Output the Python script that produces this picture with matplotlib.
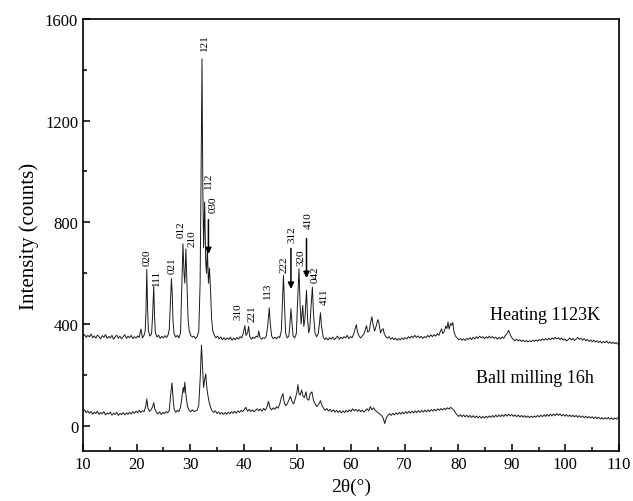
import matplotlib
matplotlib.use('Agg')
import matplotlib.pyplot as plt
from matplotlib.ticker import MultipleLocator

# heating 1123K pattern (2theta, counts)
heat = [
    (10.0, 352), (10.3, 358), (10.6, 347), (10.9, 355), (11.2, 349), (11.5, 360), (11.8, 346), (12.1, 353),
    (12.4, 344), (12.7, 356), (13.0, 350), (13.3, 341), (13.6, 354), (13.9, 347), (14.2, 358), (14.5, 343),
    (14.8, 351), (15.1, 345), (15.4, 355), (15.7, 340), (16.0, 349), (16.3, 356), (16.6, 344), (16.9, 352),
    (17.2, 341), (17.5, 350), (17.8, 357), (18.1, 343), (18.4, 352), (18.7, 346), (19.0, 355), (19.3, 342),
    (19.6, 350), (19.9, 344), (20.2, 353), (20.5, 347), (20.8, 380), (21.1, 345), (21.4, 356), (21.6, 372),
    (21.75, 450), (21.9, 615), (22.05, 460), (22.2, 372), (22.5, 352), (22.8, 362), (23.0, 440), (23.2, 548),
    (23.35, 430), (23.5, 365), (23.8, 348), (24.1, 356), (24.4, 343), (24.7, 351), (25.0, 345), (25.3, 354),
    (25.6, 347), (25.9, 358), (26.1, 380), (26.35, 500), (26.5, 578), (26.65, 520), (26.8, 410), (27.0, 362),
    (27.3, 348), (27.6, 355), (27.9, 345), (28.2, 365), (28.45, 560), (28.65, 715), (28.85, 600), (29.0, 560),
    (29.2, 695), (29.4, 560), (29.6, 420), (29.8, 375), (30.1, 355), (30.4, 348), (30.7, 352), (31.0, 342),
    (31.3, 350), (31.6, 370), (31.85, 560), (32.0, 900), (32.2, 1443), (32.35, 950), (32.5, 700), (32.7, 880),
    (32.9, 640), (33.05, 600), (33.2, 700), (33.4, 560), (33.6, 620), (33.8, 530), (34.0, 420), (34.2, 375),
    (34.5, 355), (34.8, 345), (35.1, 352), (35.4, 341), (35.7, 349), (36.0, 338), (36.3, 346), (36.6, 337),
    (36.9, 345), (37.2, 339), (37.5, 348), (37.8, 336), (38.1, 344), (38.4, 338), (38.7, 347), (39.0, 340),
    (39.3, 350), (39.6, 345), (39.9, 362), (40.2, 393), (40.4, 355), (40.7, 365), (40.9, 390), (41.1, 352),
    (41.4, 340), (41.7, 348), (42.0, 343), (42.3, 352), (42.6, 348), (42.8, 372), (43.0, 348), (43.3, 340),
    (43.6, 346), (43.9, 343), (44.2, 352), (44.5, 400), (44.75, 463), (44.95, 400), (45.2, 352), (45.5, 342),
    (45.8, 348), (46.1, 341), (46.4, 350), (46.7, 346), (47.0, 372), (47.2, 480), (47.4, 591), (47.6, 470),
    (47.8, 365), (48.1, 345), (48.4, 352), (48.6, 395), (48.8, 460), (49.0, 400), (49.2, 352), (49.5, 345),
    (49.8, 362), (50.0, 470), (50.3, 617), (50.5, 480), (50.7, 400), (51.0, 473), (51.2, 390), (51.4, 420),
    (51.7, 532), (51.9, 420), (52.1, 365), (52.3, 380), (52.55, 470), (52.8, 545), (53.0, 440), (53.3, 362),
    (53.6, 350), (53.9, 362), (54.1, 400), (54.3, 444), (54.5, 390), (54.8, 350), (55.1, 339), (55.4, 345),
    (55.7, 337), (56.0, 346), (56.3, 340), (56.6, 348), (56.9, 338), (57.2, 345), (57.5, 352), (57.8, 340),
    (58.1, 348), (58.4, 342), (58.7, 350), (59.0, 345), (59.3, 355), (59.6, 342), (59.9, 350), (60.2, 346),
    (60.5, 360), (60.8, 382), (61.0, 397), (61.2, 370), (61.5, 352), (61.8, 345), (62.1, 353), (62.4, 360),
    (62.7, 380), (62.9, 393), (63.1, 368), (63.4, 372), (63.7, 410), (63.9, 428), (64.1, 400), (64.4, 372),
    (64.7, 392), (65.0, 417), (65.2, 405), (65.5, 365), (65.8, 378), (66.0, 381), (66.2, 362), (66.5, 350),
    (66.8, 344), (67.1, 350), (67.4, 340), (67.7, 346), (68.0, 338), (68.3, 344), (68.6, 336), (68.9, 342),
    (69.2, 337), (69.5, 345), (69.8, 339), (70.1, 346), (70.4, 341), (70.7, 350), (71.0, 344), (71.3, 352),
    (71.6, 346), (71.9, 355), (72.2, 347), (72.5, 353), (72.8, 345), (73.1, 351), (73.4, 343), (73.7, 350),
    (74.0, 346), (74.3, 355), (74.6, 348), (74.9, 357), (75.2, 350), (75.5, 358), (75.8, 352), (76.1, 362),
    (76.4, 355), (76.7, 372), (76.9, 381), (77.1, 362), (77.4, 370), (77.7, 392), (77.9, 382), (78.1, 408),
    (78.3, 380), (78.6, 402), (78.8, 395), (79.0, 405), (79.2, 370), (79.5, 352), (79.8, 345), (80.1, 338),
    (80.4, 342), (80.7, 336), (81.0, 341), (81.3, 335), (81.6, 343), (81.9, 339), (82.2, 346), (82.5, 338),
    (82.8, 348), (83.1, 341), (83.4, 350), (83.7, 343), (84.0, 352), (84.3, 345), (84.6, 350), (84.9, 342),
    (85.2, 349), (85.5, 344), (85.8, 352), (86.1, 345), (86.4, 350), (86.7, 343), (87.0, 348), (87.3, 340),
    (87.6, 347), (87.9, 341), (88.2, 349), (88.5, 343), (88.8, 355), (89.1, 362), (89.4, 375), (89.7, 358),
    (90.0, 346), (90.3, 338), (90.6, 334), (90.9, 340), (91.2, 333), (91.5, 338), (91.8, 331), (92.1, 336),
    (92.4, 330), (92.7, 335), (93.0, 329), (93.3, 334), (93.6, 330), (93.9, 336), (94.2, 331), (94.5, 337),
    (94.8, 332), (95.1, 339), (95.4, 334), (95.7, 341), (96.0, 336), (96.3, 342), (96.6, 337), (96.9, 344),
    (97.2, 338), (97.5, 345), (97.8, 340), (98.1, 347), (98.4, 341), (98.7, 346), (99.0, 338), (99.3, 344),
    (99.6, 336), (99.9, 341), (100.2, 333), (100.5, 338), (100.8, 345), (101.1, 337), (101.4, 343), (101.7, 335),
    (102.0, 340), (102.3, 347), (102.6, 339), (102.9, 344), (103.2, 336), (103.5, 342), (103.8, 334), (104.1, 339),
    (104.4, 331), (104.7, 337), (105.0, 330), (105.3, 336), (105.6, 329), (105.9, 334), (106.2, 327), (106.5, 332),
    (106.8, 325), (107.1, 331), (107.4, 326), (107.7, 333), (108.0, 324), (108.3, 330), (108.6, 323), (108.9, 328),
    (109.2, 322), (109.5, 327), (109.8, 320), (110.0, 324),
]

# ball milling 16h pattern
ball = [
    (10.0, 55), (10.3, 62), (10.6, 50), (10.9, 58), (11.2, 48), (11.5, 56), (11.8, 45), (12.1, 53),
    (12.4, 47), (12.7, 57), (13.0, 44), (13.3, 52), (13.6, 46), (13.9, 55), (14.2, 42), (14.5, 50),
    (14.8, 45), (15.1, 53), (15.4, 41), (15.7, 49), (16.0, 44), (16.3, 52), (16.6, 40), (16.9, 48),
    (17.2, 43), (17.5, 51), (17.8, 42), (18.1, 50), (18.4, 44), (18.7, 53), (19.0, 45), (19.3, 55),
    (19.6, 48), (19.9, 57), (20.2, 50), (20.5, 60), (20.8, 52), (21.1, 58), (21.4, 55), (21.7, 75),
    (21.9, 105), (22.1, 70), (22.4, 56), (22.7, 62), (23.0, 75), (23.2, 90), (23.4, 65), (23.7, 52),
    (24.0, 46), (24.3, 54), (24.6, 44), (24.9, 52), (25.2, 47), (25.5, 55), (25.8, 50), (26.1, 60),
    (26.35, 120), (26.6, 168), (26.8, 110), (27.0, 65), (27.3, 52), (27.6, 60), (27.9, 55), (28.2, 72),
    (28.5, 120), (28.7, 150), (28.85, 130), (29.0, 171), (29.2, 120), (29.5, 75), (29.8, 60), (30.1, 54),
    (30.4, 62), (30.7, 55), (31.0, 58), (31.3, 60), (31.6, 80), (31.9, 200), (32.1, 316), (32.3, 230),
    (32.5, 150), (32.7, 180), (32.9, 204), (33.1, 150), (33.3, 120), (33.5, 95), (33.8, 72), (34.1, 58),
    (34.4, 52), (34.7, 58), (35.0, 48), (35.3, 54), (35.6, 45), (35.9, 52), (36.2, 44), (36.5, 51),
    (36.8, 45), (37.1, 53), (37.4, 46), (37.7, 55), (38.0, 48), (38.3, 56), (38.6, 49), (38.9, 58),
    (39.2, 52), (39.5, 60), (39.8, 55), (40.1, 63), (40.4, 72), (40.7, 56), (41.0, 64), (41.3, 55),
    (41.6, 62), (41.9, 54), (42.2, 60), (42.5, 66), (42.8, 58), (43.1, 65), (43.4, 57), (43.7, 68),
    (44.0, 60), (44.3, 72), (44.6, 95), (44.9, 70), (45.2, 62), (45.5, 70), (45.8, 64), (46.1, 74),
    (46.4, 68), (46.7, 85), (47.0, 110), (47.3, 126), (47.5, 95), (47.8, 78), (48.1, 85), (48.4, 100),
    (48.7, 115), (49.0, 95), (49.3, 85), (49.6, 105), (49.9, 130), (50.1, 161), (50.3, 125), (50.5, 120),
    (50.8, 140), (51.0, 118), (51.3, 110), (51.6, 133), (51.8, 105), (52.1, 100), (52.4, 125), (52.7, 133),
    (53.0, 100), (53.3, 85), (53.6, 75), (54.0, 85), (54.3, 98), (54.6, 78), (54.9, 68), (55.2, 60),
    (55.5, 67), (55.8, 57), (56.1, 64), (56.4, 55), (56.7, 62), (57.0, 53), (57.3, 60), (57.6, 52),
    (57.9, 59), (58.2, 50), (58.5, 58), (58.8, 51), (59.1, 60), (59.4, 53), (59.7, 62), (60.0, 55),
    (60.3, 66), (60.6, 58), (60.9, 64), (61.2, 56), (61.5, 63), (61.8, 55), (62.1, 61), (62.4, 53),
    (62.7, 60), (63.0, 66), (63.3, 58), (63.6, 75), (63.9, 62), (64.2, 70), (64.5, 60), (64.8, 55),
    (65.1, 50), (65.4, 45), (65.7, 40), (66.0, 30), (66.3, 8), (66.6, 32), (66.9, 40), (67.2, 47),
    (67.5, 40), (67.8, 48), (68.1, 42), (68.4, 50), (68.7, 44), (69.0, 52), (69.3, 45), (69.6, 53),
    (69.9, 47), (70.2, 55), (70.5, 48), (70.8, 56), (71.1, 49), (71.4, 57), (71.7, 50), (72.0, 58),
    (72.3, 51), (72.6, 59), (72.9, 52), (73.2, 60), (73.5, 53), (73.8, 61), (74.1, 54), (74.4, 62),
    (74.7, 55), (75.0, 63), (75.3, 57), (75.6, 64), (75.9, 58), (76.2, 66), (76.5, 60), (76.8, 67),
    (77.1, 61), (77.4, 68), (77.7, 63), (78.0, 70), (78.3, 65), (78.6, 72), (78.9, 66), (79.2, 60),
    (79.5, 50), (79.8, 42), (80.1, 36), (80.4, 43), (80.7, 35), (81.0, 42), (81.3, 34), (81.6, 41),
    (81.9, 33), (82.2, 40), (82.5, 32), (82.8, 39), (83.1, 31), (83.4, 38), (83.7, 30), (84.0, 37),
    (84.3, 29), (84.6, 36), (84.9, 30), (85.2, 37), (85.5, 31), (85.8, 38), (86.1, 32), (86.4, 40),
    (86.7, 33), (87.0, 41), (87.3, 34), (87.6, 42), (87.9, 35), (88.2, 43), (88.5, 36), (88.8, 44),
    (89.1, 37), (89.4, 45), (89.7, 38), (90.0, 44), (90.3, 36), (90.6, 42), (90.9, 35), (91.2, 41),
    (91.5, 34), (91.8, 40), (92.1, 33), (92.4, 39), (92.7, 32), (93.0, 38), (93.3, 31), (93.6, 37),
    (93.9, 32), (94.2, 38), (94.5, 33), (94.8, 40), (95.1, 34), (95.4, 41), (95.7, 35), (96.0, 42),
    (96.3, 36), (96.6, 44), (96.9, 37), (97.2, 45), (97.5, 38), (97.8, 46), (98.1, 39), (98.4, 47),
    (98.7, 40), (99.0, 46), (99.3, 38), (99.6, 44), (99.9, 37), (100.2, 43), (100.5, 36), (100.8, 42),
    (101.1, 35), (101.4, 41), (101.7, 34), (102.0, 40), (102.3, 33), (102.6, 39), (102.9, 32), (103.2, 38),
    (103.5, 31), (103.8, 37), (104.1, 30), (104.4, 36), (104.7, 29), (105.0, 35), (105.3, 28), (105.6, 34),
    (105.9, 27), (106.2, 33), (106.5, 26), (106.8, 32), (107.1, 25), (107.4, 31), (107.7, 26), (108.0, 32),
    (108.3, 25), (108.6, 31), (108.9, 24), (109.2, 30), (109.5, 25), (109.8, 31), (110.0, 27),
]

# peak index labels (text, 2theta, counts)
hkl = [
    ('020', 21.95, 664), ('111', 23.8, 584), ('021', 26.6, 633), ('012', 28.3, 775),
    ('210', 30.3, 740), ('121', 32.75, 1509), ('112', 33.5, 969), ('030', 34.25, 871),
    ('310', 38.9, 454), ('221', 41.5, 446), ('113', 44.5, 533), ('222', 47.5, 637),
    ('312', 49.0, 757), ('320', 50.6, 666), ('410', 52.0, 812), ('042', 53.3, 596),
    ('411', 55.0, 509),
]
# arrows (2theta, from, to)
arrows = [(33.4, 821, 664), (48.8, 708, 527), (51.7, 747, 570)]

plt.rcParams['font.family'] = ['Liberation Serif', 'DejaVu Serif']

fig = plt.figure(figsize=(6.33, 5.02), dpi=100)
ax = fig.add_axes([0.1311, 0.0996, 0.8468, 0.8606])

ax.plot([p[0] for p in heat], [p[1] for p in heat], color='#1a1a1a', lw=0.7)
ax.plot([p[0] for p in ball], [p[1] for p in ball], color='#1a1a1a', lw=0.7)

for t, x, y in hkl:
    ax.text(x, y, t, rotation=90, ha='center', va='center', fontsize=8)
for x, y0, y1 in arrows:
    ax.annotate('', xy=(x, y1), xytext=(x, y0),
                arrowprops=dict(arrowstyle='-|>', color='k', lw=1.1, mutation_scale=9))

ax.text(96.2, 436, 'Heating 1123K', ha='center', va='center', fontsize=13)
ax.text(94.3, 189, 'Ball milling 16h', ha='center', va='center', fontsize=13)

ax.set_xlim(10, 110)
ax.set_ylim(-100, 1600)
ax.xaxis.set_major_locator(MultipleLocator(10))
ax.xaxis.set_minor_locator(MultipleLocator(5))
ax.yaxis.set_major_locator(MultipleLocator(400))
ax.yaxis.set_minor_locator(MultipleLocator(200))
ax.tick_params(which='both', direction='in', labelsize=12, width=1.1)
ax.tick_params(which='major', length=5)
ax.tick_params(which='minor', length=3)
for s in ax.spines.values():
    s.set_linewidth(1.2)

ax.set_xlabel('2θ(°)', fontsize=14)
ax.set_ylabel('Intensity (counts)', fontsize=15)

fig.savefig('out.png', dpi=100)
